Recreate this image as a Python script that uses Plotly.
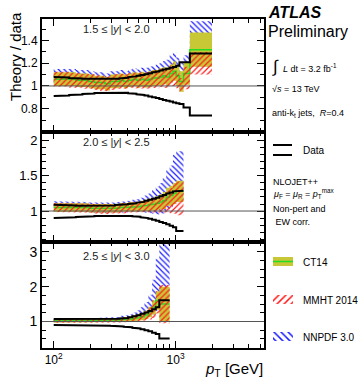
import plotly.graph_objects as go

# ---------------- data ----------------
# Panel 1: 1.5 <= |y| < 2.0
edges_1 = [100, 116, 134, 152, 172, 194, 216, 240, 264, 290, 318, 346, 376, 408, 442, 478, 516,
           556, 598, 642, 688, 736, 786, 838, 894, 952, 1012, 1076, 1162, 1310, 1992]
data_up_1 = [1.078, 1.074, 1.07, 1.066, 1.063, 1.06, 1.058, 1.058, 1.059, 1.06, 1.063, 1.067, 1.072,
             1.078, 1.084, 1.09, 1.097, 1.104, 1.112, 1.12, 1.128, 1.136, 1.144, 1.152, 1.16, 1.168,
             1.178, 1.21, 1.21, 1.285]
data_dn_1 = [0.912, 0.915, 0.92, 0.925, 0.93, 0.934, 0.938, 0.941, 0.943, 0.944, 0.944, 0.943, 0.94,
             0.936, 0.932, 0.927, 0.921, 0.915, 0.908, 0.90, 0.893, 0.885, 0.877, 0.869, 0.862, 0.855,
             0.848, 0.84, 0.81, 0.74]
ct14_1 = [1.06, 1.06, 1.06, 1.05, 1.05, 1.04, 1.03, 1.03, 1.02, 1.04, 1.04, 1.05, 1.04, 1.05, 1.06,
          1.05, 1.06, 1.05, 1.06, 1.07, 1.07, 1.08, 1.09, 1.08, 1.11, 1.13, 1.09, 1.04, 1.11, 1.32]
ct14_err_1 = [0.06, 0.06, 0.06, 0.06, 0.06, 0.06, 0.06, 0.06, 0.06, 0.06, 0.06, 0.06, 0.06, 0.06, 0.06,
              0.065, 0.065, 0.065, 0.07, 0.07, 0.07, 0.075, 0.075, 0.08, 0.08, 0.085, 0.09, 0.09, 0.10, 0.15]
mmht_1 = [1.06, 1.06, 1.05, 1.05, 1.04, 1.04, 1.03, 1.02, 1.02, 1.03, 1.04, 1.04, 1.04, 1.05, 1.05,
          1.05, 1.05, 1.05, 1.05, 1.06, 1.06, 1.07, 1.07, 1.07, 1.09, 1.10, 1.05, 1.01, 1.07, 1.20]
mmht_err_1 = [0.065, 0.065, 0.065, 0.065, 0.065, 0.065, 0.065, 0.065, 0.065, 0.065, 0.065, 0.065, 0.065,
              0.065, 0.07, 0.07, 0.07, 0.07, 0.075, 0.075, 0.08, 0.08, 0.085, 0.09, 0.09, 0.10, 0.07,
              0.06, 0.10, 0.10]
nnpdf_1 = [1.08, 1.08, 1.08, 1.07, 1.07, 1.06, 1.05, 1.05, 1.04, 1.06, 1.06, 1.07, 1.06, 1.07, 1.08,
           1.07, 1.08, 1.08, 1.09, 1.09, 1.10, 1.11, 1.12, 1.13, 1.16, 1.18, 1.13, 1.09, 1.15, 1.37]
nnpdf_err_1 = [0.07, 0.07, 0.07, 0.07, 0.07, 0.07, 0.07, 0.07, 0.07, 0.07, 0.07, 0.07, 0.07, 0.075,
               0.075, 0.075, 0.08, 0.08, 0.08, 0.085, 0.09, 0.09, 0.10, 0.10, 0.11, 0.12, 0.12, 0.12,
               0.12, 0.20]

# Panel 2: 2.0 <= |y| < 2.5
edges_2 = [100, 116, 134, 152, 172, 194, 216, 240, 264, 290, 318, 346, 376, 408, 442, 478, 516,
           556, 598, 642, 688, 736, 786, 838, 894, 952, 1012, 1162]
data_up_2 = [1.09, 1.085, 1.08, 1.075, 1.072, 1.07, 1.07, 1.072, 1.075, 1.08, 1.085, 1.09, 1.095, 1.10,
             1.11, 1.12, 1.13, 1.145, 1.16, 1.175, 1.19, 1.21, 1.23, 1.25, 1.265, 1.28, 1.29]
data_dn_2 = [0.90, 0.905, 0.91, 0.915, 0.92, 0.925, 0.93, 0.935, 0.938, 0.94, 0.94, 0.938, 0.935, 0.93,
             0.925, 0.918, 0.91, 0.90, 0.89, 0.875, 0.86, 0.845, 0.83, 0.81, 0.79, 0.77, 0.715]
ct14_2 = [1.05, 1.06, 1.05, 1.06, 1.05, 1.04, 1.04, 1.03, 1.03, 1.04, 1.04, 1.05, 1.05, 1.06, 1.06,
          1.06, 1.07, 1.08, 1.09, 1.10, 1.11, 1.13, 1.15, 1.20, 1.22, 1.25, 1.28]
ct14_err_2 = [0.06, 0.06, 0.06, 0.06, 0.06, 0.06, 0.06, 0.06, 0.06, 0.06, 0.06, 0.06, 0.065, 0.065, 0.07,
              0.07, 0.075, 0.08, 0.085, 0.09, 0.10, 0.11, 0.12, 0.13, 0.14, 0.15, 0.15]
mmht_2 = [1.05, 1.05, 1.05, 1.05, 1.04, 1.04, 1.03, 1.03, 1.02, 1.03, 1.03, 1.04, 1.04, 1.05, 1.05,
          1.05, 1.06, 1.07, 1.07, 1.08, 1.09, 1.10, 1.11, 1.14, 1.15, 1.18, 1.18]
mmht_err_2 = [0.065, 0.065, 0.065, 0.065, 0.065, 0.065, 0.065, 0.065, 0.065, 0.065, 0.065, 0.07, 0.07,
              0.07, 0.075, 0.075, 0.08, 0.085, 0.09, 0.10, 0.11, 0.12, 0.14, 0.16, 0.18, 0.22, 0.24]
nnpdf_2 = [1.07, 1.07, 1.07, 1.07, 1.06, 1.05, 1.05, 1.05, 1.04, 1.05, 1.05, 1.06, 1.06, 1.07, 1.08,
           1.08, 1.09, 1.10, 1.11, 1.13, 1.15, 1.18, 1.22, 1.30, 1.35, 1.45, 1.50]
nnpdf_err_2 = [0.07, 0.07, 0.07, 0.07, 0.07, 0.07, 0.07, 0.07, 0.07, 0.07, 0.075, 0.075, 0.08, 0.08,
               0.08, 0.09, 0.10, 0.12, 0.14, 0.17, 0.20, 0.22, 0.25, 0.28, 0.30, 0.35, 0.35]

# Panel 3: 2.5 <= |y| < 3.0
edges_3 = [100, 116, 134, 152, 172, 194, 216, 240, 264, 290, 318, 346, 376, 408, 442, 478, 516,
           556, 598, 642, 688, 736, 894]
data_up_3 = [1.07, 1.065, 1.06, 1.06, 1.06, 1.06, 1.06, 1.06, 1.06, 1.065, 1.08, 1.09, 1.10, 1.12,
             1.15, 1.18, 1.22, 1.26, 1.30, 1.35, 1.41, 1.61]
data_dn_3 = [0.90, 0.90, 0.90, 0.90, 0.90, 0.895, 0.89, 0.885, 0.88, 0.875, 0.87, 0.86, 0.85, 0.835,
             0.82, 0.80, 0.78, 0.75, 0.72, 0.68, 0.64, 0.51]
ct14_3 = [1.02, 1.03, 1.02, 1.03, 1.02, 1.03, 1.02, 1.04, 1.03, 1.04, 1.04, 1.05, 1.06, 1.07, 1.09,
          1.11, 1.14, 1.19, 1.27, 1.40, 1.60, 1.50]
ct14_err_3 = [0.05, 0.05, 0.05, 0.05, 0.05, 0.05, 0.05, 0.05, 0.05, 0.05, 0.055, 0.06, 0.065, 0.07,
              0.08, 0.09, 0.10, 0.12, 0.15, 0.20, 0.26, 0.50]
mmht_3 = [1.02, 1.02, 1.02, 1.02, 1.02, 1.02, 1.02, 1.03, 1.03, 1.03, 1.03, 1.04, 1.05, 1.06, 1.08,
          1.10, 1.13, 1.17, 1.24, 1.35, 1.55, 1.50]
mmht_err_3 = [0.055, 0.055, 0.055, 0.055, 0.055, 0.055, 0.055, 0.055, 0.055, 0.06, 0.06, 0.065, 0.07,
              0.075, 0.085, 0.10, 0.11, 0.14, 0.18, 0.25, 0.32, 0.55]
nnpdf_3 = [1.03, 1.04, 1.03, 1.04, 1.03, 1.04, 1.04, 1.05, 1.05, 1.06, 1.06, 1.08, 1.09, 1.11, 1.14,
           1.18, 1.23, 1.32, 1.45, 1.70, 2.05, 2.40]
nnpdf_err_3 = [0.05, 0.05, 0.05, 0.05, 0.05, 0.05, 0.055, 0.06, 0.06, 0.065, 0.07, 0.08, 0.09, 0.10,
               0.12, 0.14, 0.18, 0.24, 0.32, 0.50, 0.75, 1.10]

rapidity_labels = ["1.5 ≤ |<i>y</i>| < 2.0", "2.0 ≤ |<i>y</i>| < 2.5", "2.5 ≤ |<i>y</i>| < 3.0"]
legend_names = ["CT14", "MMHT 2014", "NNPDF 3.0"]

# ---------------- style ----------------
FONT = "Liberation Sans, Arial, Helvetica, sans-serif"
CT14_FILL = "rgb(200,200,55)"
CT14_LINE = "#22dd22"
MMHT_COL = "#ff1a1a"
NNPDF_COL = "#1a1aff"

W, H = 361, 380
ML, MR, MT, MB = 42, 0, 19, 32
PW, PH = W - ML - MR, H - MT - MB
X_END = 264  # pixel right edge of frame


def px(x):
    return (x - ML) / PW


def py(y):
    return (H - MB - y) / PH


def band_xy(edges, cen, err):
    xs, ys = [], []
    n = len(cen)
    for i in range(n):
        xs += [edges[i], edges[i + 1]]
        ys += [cen[i] + err[i]] * 2
    for i in reversed(range(n)):
        xs += [edges[i + 1], edges[i]]
        ys += [cen[i] - err[i]] * 2
    xs.append(xs[0])
    ys.append(ys[0])
    return xs, ys


def step_xy(edges, vals):
    xs, ys = [], []
    for i in range(len(vals)):
        xs += [edges[i], edges[i + 1]]
        ys += [vals[i]] * 2
    return xs, ys


def hatch(shape, color, size=4, solidity=0.3):
    return dict(shape=shape, fgcolor=color, bgcolor="rgba(0,0,0,0)", size=size,
                solidity=solidity, fillmode="replace")


fig = go.Figure()

panels = [
    dict(ax="3", edges=edges_1, up=data_up_1, dn=data_dn_1, ct=ct14_1, cte=ct14_err_1, mm=mmht_1,
         mme=mmht_err_1, nn=nnpdf_1, nne=nnpdf_err_1),
    dict(ax="2", edges=edges_2, up=data_up_2, dn=data_dn_2, ct=ct14_2, cte=ct14_err_2, mm=mmht_2,
         mme=mmht_err_2, nn=nnpdf_2, nne=nnpdf_err_2),
    dict(ax="", edges=edges_3, up=data_up_3, dn=data_dn_3, ct=ct14_3, cte=ct14_err_3, mm=mmht_3,
         mme=mmht_err_3, nn=nnpdf_3, nne=nnpdf_err_3),
]

for p in panels:
    xa, ya = "x" + p["ax"], "y" + p["ax"]
    e = p["edges"]
    # NNPDF (blue hatch)
    x, y = band_xy(e, p["nn"], p["nne"])
    fig.add_trace(go.Scatter(x=x, y=y, xaxis=xa, yaxis=ya, mode="lines", line=dict(width=0),
                             fill="toself", fillcolor="rgba(0,0,0,0)",
                             fillpattern=hatch("\\", NNPDF_COL),
                             showlegend=False, hoverinfo="skip"))
    # CT14 (solid olive band)
    x, y = band_xy(e, p["ct"], p["cte"])
    fig.add_trace(go.Scatter(x=x, y=y, xaxis=xa, yaxis=ya, mode="lines", line=dict(width=0),
                             fill="toself", fillcolor=CT14_FILL, showlegend=False, hoverinfo="skip"))
    x, y = step_xy(e, p["ct"])
    fig.add_trace(go.Scatter(x=x, y=y, xaxis=xa, yaxis=ya, mode="lines",
                             line=dict(color=CT14_LINE, width=1.5), showlegend=False, hoverinfo="skip"))
    # MMHT (red hatch)
    x, y = band_xy(e, p["mm"], p["mme"])
    fig.add_trace(go.Scatter(x=x, y=y, xaxis=xa, yaxis=ya, mode="lines", line=dict(width=0),
                             fill="toself", fillcolor="rgba(0,0,0,0)",
                             fillpattern=hatch("/", MMHT_COL),
                             showlegend=False, hoverinfo="skip"))
    # Data uncertainty envelope
    for vals in (p["up"], p["dn"]):
        x, y = step_xy(e, vals)
        fig.add_trace(go.Scatter(x=x, y=y, xaxis=xa, yaxis=ya, mode="lines",
                                 line=dict(color="black", width=2), showlegend=False, hoverinfo="skip"))
    fig.add_shape(type="line", xref=xa + " domain", yref=ya, x0=0, x1=1, y0=1, y1=1,
                  line=dict(color="#555555", width=1), layer="above")

# ---------------- axes ----------------
XR = [1.904, 3.726]
minor_x = [200, 300, 400, 500, 600, 700, 800, 900, 2000, 3000, 4000, 5000]
xdom = [0, px(X_END)]
d3 = [py(131.7), 1.0]
d2 = [py(241.7), py(131.7)]
d1 = [0.0, py(241.7)]

common_x = dict(type="log", range=XR, domain=xdom, showline=True, linecolor="black", linewidth=2,
                mirror="allticks", ticks="inside", ticklen=7, tickcolor="black", tickwidth=1,
                tickmode="array", tickvals=[100, 1000], showgrid=False, zeroline=False,
                minor=dict(tickmode="array", tickvals=minor_x, ticks="inside", ticklen=4,
                           tickcolor="black", showgrid=False))


def yax(rng, dom, major, minor, size, anchor):
    return dict(range=rng, domain=dom, anchor=anchor, showline=True, linecolor="black", linewidth=2,
                mirror="allticks", ticks="inside", ticklen=7, tickcolor="black", tickwidth=1,
                tickmode="array", tickvals=major, ticktext=[("%g" % v) for v in major],
                tickfont=dict(size=size, family=FONT, color="black"), showgrid=False, zeroline=False,
                minor=dict(tickmode="array", tickvals=minor, ticks="inside", ticklen=4,
                           tickcolor="black", showgrid=False))


minor_y1 = [0.6, 0.7, 0.9, 1.1, 1.3, 1.5]
minor_y2 = [0.6, 0.7, 0.8, 0.9, 1.1, 1.2, 1.3, 1.4, 1.6, 1.7, 1.8, 1.9, 2.1]
minor_y3 = [0.25, 0.5, 0.75, 1.25, 1.5, 1.75, 2.25, 2.5, 2.75, 3.25]

fig.update_layout(
    xaxis=dict(common_x, anchor="y", ticktext=["10<sup>2</sup>", "10<sup>3</sup>"],
               tickfont=dict(size=12, family=FONT, color="black")),
    xaxis2=dict(common_x, anchor="y2", matches="x", showticklabels=False),
    xaxis3=dict(common_x, anchor="y3", matches="x", showticklabels=False),
    yaxis=yax([0.24, 3.29], d1, [1, 2, 3], minor_y3, 14, "x"),
    yaxis2=yax([0.563, 2.13], d2, [1, 1.5, 2], minor_y2, 13, "x2"),
    yaxis3=yax([0.597, 1.59], d3, [0.8, 1, 1.2, 1.4], minor_y1, 12, "x3"),
    xaxis4=dict(domain=[px(X_END + 1), 1.0], range=[X_END + 1, W], anchor="y4", visible=False),
    yaxis4=dict(domain=[0, 1], range=[H - MB, MT], anchor="x4", visible=False),
)

# ---------------- legend symbols (aux axes, pixel coordinates) ----------------
def rect(x0, x1, y0, y1):
    return [x0, x1, x1, x0, x0], [y0, y0, y1, y1, y0]


x, y = rect(273, 293, 257, 266)
fig.add_trace(go.Scatter(x=x, y=y, xaxis="x4", yaxis="y4", mode="lines", line=dict(width=0),
                         fill="toself", fillcolor=CT14_FILL, showlegend=False, hoverinfo="skip"))
fig.add_trace(go.Scatter(x=[273, 293], y=[261.5, 261.5], xaxis="x4", yaxis="y4", mode="lines",
                         line=dict(color=CT14_LINE, width=1.5), showlegend=False, hoverinfo="skip"))
x, y = rect(273, 293, 295, 304)
fig.add_trace(go.Scatter(x=x, y=y, xaxis="x4", yaxis="y4", mode="lines", line=dict(width=0),
                         fill="toself", fillcolor="rgba(0,0,0,0)",
                         fillpattern=hatch("/", MMHT_COL, 5, 0.3),
                         showlegend=False, hoverinfo="skip"))
x, y = rect(273, 293, 332, 341)
fig.add_trace(go.Scatter(x=x, y=y, xaxis="x4", yaxis="y4", mode="lines", line=dict(width=0),
                         fill="toself", fillcolor="rgba(0,0,0,0)",
                         fillpattern=hatch("\\", NNPDF_COL, 5, 0.3),
                         showlegend=False, hoverinfo="skip"))
for yy in (145, 155):
    fig.add_trace(go.Scatter(x=[273, 292], y=[yy, yy], xaxis="x4", yaxis="y4", mode="lines",
                             line=dict(color="black", width=2), showlegend=False, hoverinfo="skip"))

# ---------------- text ----------------
ann = []


def text(t, x, y, size, xanchor="left", yanchor="middle", color="black", angle=0):
    ann.append(dict(text=t, x=px(x), y=py(y), xref="paper", yref="paper", xanchor=xanchor,
                    yanchor=yanchor, showarrow=False, textangle=angle,
                    font=dict(size=size, family=FONT, color=color)))


text("Theory / data", 16, 57, 15, xanchor="center", angle=-90)
text("<i>p</i><sub>T</sub> [GeV]", 265, 369, 15, xanchor="right")
text(rapidity_labels[0], 116, 29, 11, xanchor="center", color="#222222")
text(rapidity_labels[1], 116, 142, 11, xanchor="center", color="#222222")
text(rapidity_labels[2], 116, 256, 11, xanchor="center", color="#222222")

text("<b><i>ATLAS</i></b>", 266, 13, 16)
text("Preliminary", 266, 31, 16)
text("∫", 270, 66, 17)
text("<i>L</i> dt = 3.2 fb<sup>-1</sup>", 281, 68, 9)
text("√<i>s</i> = 13 TeV", 270, 89, 9)
text("anti-k<sub>t</sub> jets,  <i>R</i>=0.4", 270, 113, 9)
text("Data", 301, 150, 10)
text("NLOJET++", 271, 182, 9)
text("<i>μ</i><sub>F</sub> = <i>μ</i><sub>R</sub> = <i>p</i><sub>T</sub><sup>max</sup>", 271, 193, 9)
text("Non-pert and", 271, 209, 9)
text(" EW corr.", 271, 222, 9)
text(legend_names[0], 301, 262, 10)
text(legend_names[1], 301, 300, 10)
text(legend_names[2], 301, 337, 10)

fig.update_layout(
    annotations=ann,
    width=W, height=H, autosize=False,
    margin=dict(l=ML, r=MR, t=MT, b=MB, pad=0),
    paper_bgcolor="white", plot_bgcolor="white",
    showlegend=False,
    font=dict(family=FONT, color="black"),
)

fig.write_html("out.html")
